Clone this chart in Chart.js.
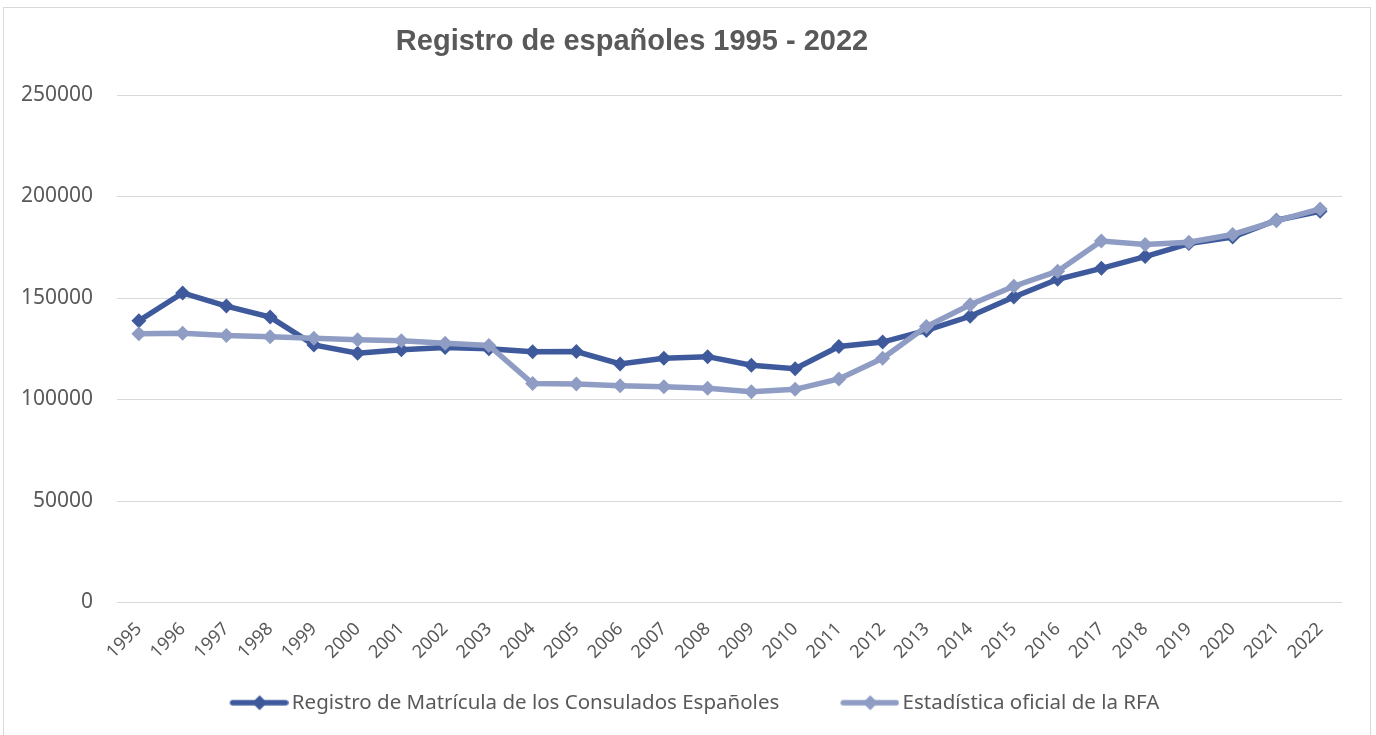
<!DOCTYPE html>
<html>
<head>
<meta charset="utf-8">
<script src="https://cdn.jsdelivr.net/npm/chart.js@4.4.1/dist/chart.umd.min.js"></script>
<style>
  html, body { margin: 0; padding: 0; background: #fff; }
  #frame { position: absolute; left: 3px; top: 7px; width: 1366px; height: 740px; border: 1px solid #d9d9d9; }
  #wrap { position: absolute; left: 0; top: 0; width: 1376px; height: 735px; }
</style>
</head>
<body>
<div id="frame"></div>
<div id="wrap"><canvas id="chart"></canvas></div>
<script>
const years = ["1995","1996","1997","1998","1999","2000","2001","2002","2003","2004","2005","2006","2007","2008",
  "2009","2010","2011","2012","2013","2014","2015","2016","2017","2018","2019","2020","2021","2022"];
const consulados = [138800, 152500, 146000, 140600, 126900, 122800, 124500, 125600, 125000, 123500, 123600, 117500, 120300, 121100,
  116900, 115200, 126100, 128300, 134000, 141000, 150500, 159200, 164600, 170400, 176800, 180000, 188300, 192700];
const rfa = [132400, 132600, 131500, 130900, 130200, 129400, 128900, 127700, 126600, 107900, 107600, 106800, 106300, 105500,
  103800, 105000, 110100, 120300, 135900, 146700, 155800, 163200, 178100, 176400, 177500, 181300, 188000, 193900];
const yTicks = [0, 50000, 100000, 150000, 200000, 250000];

const darkBlue = '#3f5a9c';
const lightBlue = '#8f9dc5';
const textGray = '#595959';
const FONT = "'Noto Sans', sans-serif";

// legend box is wider than the visible icon so the gap between the two items grows
const BOX_W = 99;
function legendIcon(color) {
    const c = document.createElement('canvas');
    c.width = 113; c.height = 18;
    const g = c.getContext('2d');
    g.strokeStyle = color;
    g.lineWidth = 5.5;
    g.lineCap = 'round';
    g.beginPath(); g.moveTo(57, 9); g.lineTo(110, 9); g.stroke();
    g.fillStyle = color;
    g.beginPath(); g.moveTo(84, 1.5); g.lineTo(91.5, 9); g.lineTo(84, 16.5); g.lineTo(76.5, 9); g.closePath(); g.fill();
    return c;
}
const icons = [legendIcon(darkBlue), legendIcon(lightBlue)];

const titlePlugin = {
    id: 'excelTitle',
    afterDraw(chart) {
        const ctx = chart.ctx;
        ctx.save();
        ctx.font = "bold 29px 'Liberation Sans', Arial, sans-serif";
        ctx.fillStyle = textGray;
        ctx.textAlign = 'center';
        ctx.textBaseline = 'middle';
        ctx.fillText('Registro de españoles 1995 - 2022', 632, 42);
        ctx.restore();
    }
};

Chart.defaults.font.family = FONT;
Chart.defaults.color = textGray;

new Chart(document.getElementById('chart'), {
    type: 'line',
    data: {
        labels: years,
        datasets: [{
            label: 'Registro de Matrícula de los Consulados Españoles',
            data: consulados,
            borderColor: darkBlue,
            backgroundColor: darkBlue,
            borderWidth: 5.5,
            pointStyle: 'rectRot',
            pointRadius: 7.5,
            pointBorderWidth: 0,
            tension: 0,
            order: 1
        },
        {
            label: 'Estadística oficial de la RFA',
            data: rfa,
            borderColor: lightBlue,
            backgroundColor: lightBlue,
            borderWidth: 5.5,
            pointStyle: 'rectRot',
            pointRadius: 7.5,
            pointBorderWidth: 0,
            tension: 0,
            order: 0
        }]
    },
    options: {
        responsive: true,
        maintainAspectRatio: false,
        animation: false,
        layout: { padding: { top: 95, right: 34, left: 0, bottom: 12 } },
        scales: {
            x: {
                offset: true,
                grid: { display: false, drawTicks: false },
                border: { display: false },
                ticks: { minRotation: 45, maxRotation: 45, autoSkip: false, padding: 16, font: { size: 18 }, color: textGray },
                afterFit(scale) { scale.height = 76; }
            },
            y: {
                min: 0,
                max: 250000,
                afterBuildTicks(scale) { scale.ticks = yTicks.map(v => ({ value: v })); },
                grid: { color: '#d9d9d9', lineWidth: 1, drawTicks: false },
                border: { display: false },
                ticks: { padding: 24, font: { size: 21 }, color: textGray, callback: v => String(v) },
                afterFit(scale) { scale.width = 117; }
            }
        },
        plugins: {
            title: { display: false },
            tooltip: { enabled: false },
            legend: {
                position: 'bottom',
                labels: {
                    usePointStyle: true,
                    pointStyleWidth: BOX_W,
                    padding: 14,
                    font: { size: 20.5 },
                    color: textGray,
                    sort: (a, b) => a.datasetIndex - b.datasetIndex,
                    generateLabels(chart) {
                        const items = Chart.defaults.plugins.legend.labels.generateLabels(chart);
                        items.forEach(it => { it.pointStyle = icons[it.datasetIndex]; });
                        return items;
                    }
                }
            }
        }
    },
    plugins: [titlePlugin]
});
</script>
</body>
</html>
